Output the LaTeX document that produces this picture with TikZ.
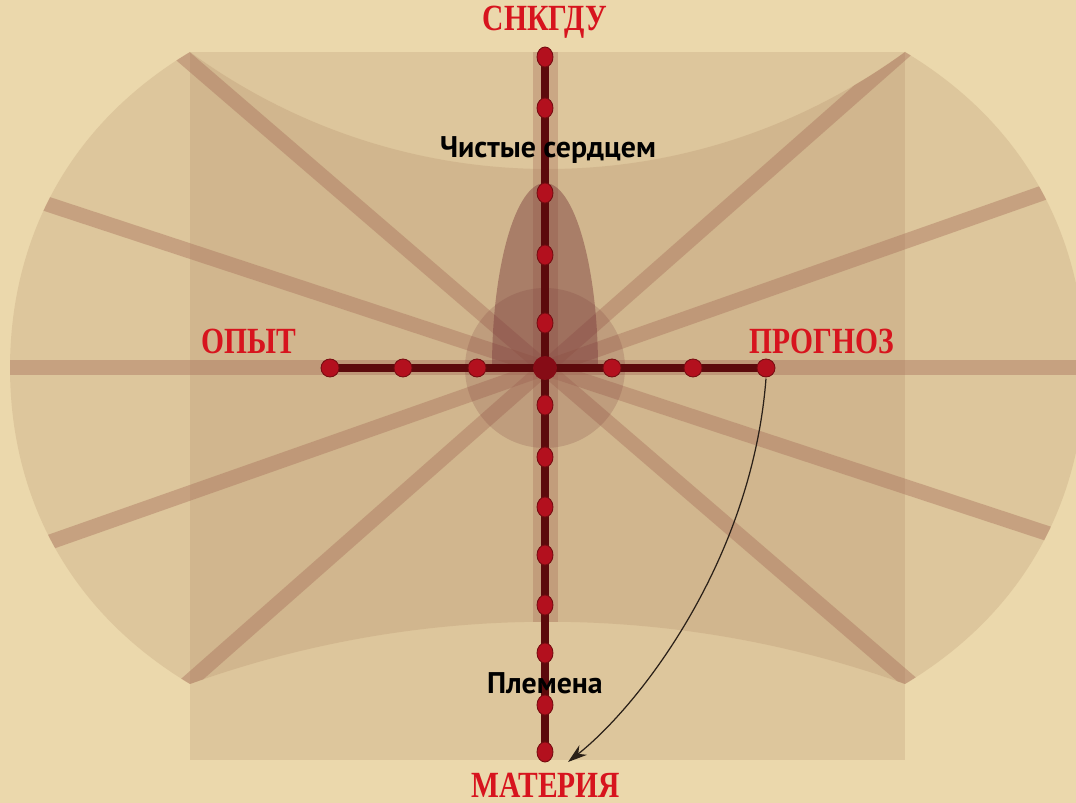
\documentclass[tikz,border=0pt]{standalone}
\usepackage{fontspec}
\usetikzlibrary{arrows.meta, shapes.geometric}
\newfontfamily\capsfont{Liberation Serif}[FakeStretch=0.8]
\newfontfamily\handfont{PT Sans}
\definecolor{parchment}{HTML}{EBD8AC}
\definecolor{veilbrown}{HTML}{8C5A3C}
\definecolor{raybrown}{HTML}{A8705A}
\definecolor{mauve}{HTML}{7A3A3A}
\definecolor{axismaroon}{HTML}{5C0A0C}
\definecolor{dotred}{HTML}{B3101E}
\definecolor{labelred}{HTML}{D7141E}
\definecolor{inkbrown}{HTML}{2A2018}

% outline of the wide veil behind the cross
\newcommand{\barrelpath}{(190,52) .. controls (404,208) and (691,208) .. (905,52)
    .. controls (1035,130) and (1085,250) .. (1085,368)
    .. controls (1085,486) and (1035,606) .. (905,684)
    .. controls (674,601) and (421,601) .. (190,684)
    .. controls (60,606) and (10,486) .. (10,368)
    .. controls (10,250) and (60,130) .. (190,52) -- cycle}

\begin{document}
\begin{tikzpicture}[
    x=0.02cm, y=-0.02cm,
    >=Stealth,
    veil/.style={fill=veilbrown, fill opacity=0.14},
    raybeam/.style={draw=raybrown, draw opacity=0.42, line width=0.3cm},
    axisline/.style={draw=axismaroon, line width=4pt},
    vdot/.style={ellipse, fill=dotred, draw=axismaroon!70!dotred, line width=0.5pt,
        minimum width=0.32cm, minimum height=0.4cm, inner sep=0pt},
    hdot/.style={circle, fill=dotred, draw=axismaroon!70!dotred, line width=0.5pt,
        minimum size=0.36cm, inner sep=0pt},
    coredot/.style={circle, fill=dotred!75!black, minimum size=0.48cm, inner sep=0pt},
    redcaps/.style={font=\capsfont\bfseries\fontsize{21}{24}\selectfont, text=labelred},
    handlabel/.style={font=\handfont\bfseries\fontsize{17}{19}\selectfont, text=black},
    curvearrow/.style={-{Stealth[length=11pt,width=7pt]}, line width=0.7pt, draw=inkbrown},
]

% page and frame
\useasboundingbox (0,0) rectangle (1076,803);
\clip (0,0) rectangle (1076,803);
\fill[parchment] (0,0) rectangle (1076,803);

\coordinate (ctr) at (545,368);

% veils
\fill[veil] \barrelpath;
\fill[veil] (190,52) rectangle (905,760);

% rays through the centre
\begin{scope}
    \clip \barrelpath;
    \draw[raybeam] (-100,368) -- (1200,368);
    \draw[raybeam] (-175,-252) -- (1265,988);
    \draw[raybeam] (-445,42) -- (1535,694);
    \draw[raybeam] (1255,-258) -- (-165,994);
    \draw[raybeam] (1529,22) -- (-439,714);
\end{scope}
\draw[draw=raybrown, draw opacity=0.35, line width=0.5cm] (545,52) -- (545,622);

% flame and halo at the centre
\fill[mauve, fill opacity=0.45] (492,368) .. controls (492,266) and (516,183) .. (545,183)
    .. controls (574,183) and (598,266) .. (598,368) -- cycle;
\fill[mauve, fill opacity=0.2] (ctr) circle[radius=80];

% the cross
\foreach \py [count=\i] in {57,108,193,255,323,405,457,507,555,605,653,705,752}
    \coordinate (v\i) at (545,\py);
\foreach \px [count=\i] in {330,403,477,612,693,766}
    \coordinate (h\i) at (\px,368);
\draw[axisline] (v1) -- (v13);
\draw[axisline] (h1) -- (h6);
\foreach \i in {1,...,13}
    \node[vdot] (vd\i) at (v\i) {};
\foreach \i in {1,...,6}
    \node[hdot] (hd\i) at (h\i) {};
\node[coredot] (core) at (ctr) {};

% labels
\node[redcaps] (sverkhu) at (545,22) {СНКГДУ};
\node[redcaps] (opyt) at (249,341) {ОПЫТ};
\node[redcaps] (prognoz) at (822,341) {ПРОГНОЗ};
\node[redcaps] (materiya) at (546,785) {МАТЕРИЯ};
\node[handlabel] (chistye) at (548,150) {Чистые сердцем};
\node[handlabel] (plemena) at (545,683) {Племена};

% forecast falls back to matter
\coordinate (arrowend) at (568,762);
\draw[curvearrow] ([yshift=-6pt]h6) .. controls (752,560) and (640,705) .. (arrowend);

\end{tikzpicture}
\end{document}
